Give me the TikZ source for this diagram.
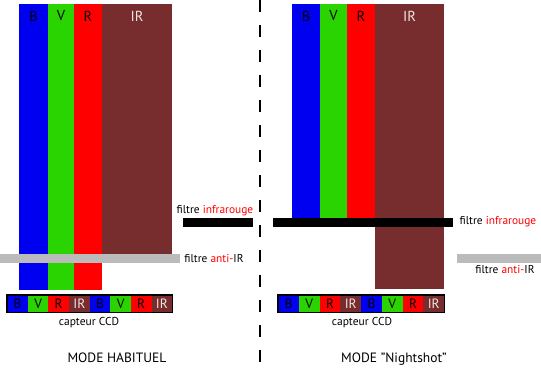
\documentclass[tikz,border=0pt]{standalone}
\usepackage{fontspec}
\setmainfont{PT Sans}
\definecolor{cB}{HTML}{0000F0}
\definecolor{cV}{HTML}{2AD400}
\definecolor{cR}{HTML}{FF0000}
\definecolor{cIR}{HTML}{772D2D}
\definecolor{cGray}{HTML}{BBBBBB}
\definecolor{cIRtxt}{HTML}{F2E4E4}
\begin{document}
\begin{tikzpicture}[x=1pt,y=-1pt,
  barlbl/.style={font=\fontsize{14.5}{16}\selectfont, inner sep=0pt},
  cell/.style={inner sep=0pt, minimum width=20.625pt, minimum height=17pt, anchor=north west, font=\fontsize{13.5}{15}\selectfont},
  lbl/.style={font=\fontsize{11.4}{13}\selectfont, inner sep=0pt},
  title/.style={font=\fontsize{13.5}{16}\selectfont, inner sep=0pt}]
\useasboundingbox (0,0) rectangle (541,371);
% ---------- left panel ----------
\fill[cB] (19,4) rectangle (48,290);
\fill[cV] (48,4) rectangle (74,290);
\fill[cR] (74,4) rectangle (102,290);
\fill[cIR] (102,4) rectangle (172,254);
\node[barlbl] (lB) at (33.5,16) {B};
\node[barlbl] (lV) at (61,16) {V};
\node[barlbl] (lR) at (88,16) {R};
\node[barlbl, text=cIRtxt] (lIR) at (137,16) {IR};
\fill[cGray] (0,254) rectangle (180,263);
\fill[black] (183,218) rectangle (253,227);
\node[lbl] (lfir) at (215,211) {filtre \textcolor{cR}{infrarouge}};
\node[lbl] (lfanti) at (214,259) {filtre \textcolor{cR}{anti-}IR};
\foreach \i/\c/\t/\tc in {0/cB/B/black,1/cV/V/black,2/cR/R/black,3/cIR/IR/cIRtxt,4/cB/B/black,5/cV/V/black,6/cR/R/black,7/cIR/IR/cIRtxt}
  \node[cell, fill=\c, text=\tc] (L\i) at (7+\i*20.625,295) {\t};
\draw[line width=1.2pt] (L0.north west) rectangle (L7.south east);
\node[lbl, font=\fontsize{11.5}{13}\selectfont] (lccd) at (89,323) {capteur CCD};
\node[title] (lmode) at (117,358) {MODE HABITUEL};
% ---------- separator ----------
\coordinate (st) at (260,0);
\coordinate (sb) at (260,371);
\draw[line width=2pt, dash pattern=on 12.5pt off 12.5pt] (st) -- (sb);
% ---------- right panel ----------
\fill[cB] (292,4) rectangle (320,218);
\fill[cV] (320,4) rectangle (347,218);
\fill[cR] (347,4) rectangle (375,218);
\fill[cIR] (375,4) rectangle (444,289);
\node[barlbl] (rB) at (306,16) {B};
\node[barlbl] (rV) at (333.5,16) {V};
\node[barlbl] (rR) at (361,16) {R};
\node[barlbl, text=cIRtxt] (rIR) at (409.5,16) {IR};
\fill[black] (273,218) rectangle (453,227);
\node[lbl] (rfir) at (498,222) {filtre \textcolor{cR}{infrarouge}};
\fill[cGray] (457,254) rectangle (541,263);
\node[lbl] (rfanti) at (505,270) {filtre \textcolor{cR}{anti-}IR};
\foreach \i/\c/\t/\tc in {0/cB/B/black,1/cV/V/black,2/cR/R/black,3/cIR/IR/cIRtxt,4/cB/B/black,5/cV/V/black,6/cR/R/black,7/cIR/IR/cIRtxt}
  \node[cell, fill=\c, text=\tc] (R\i) at (278+\i*20.75,295) {\t};
\draw[line width=1.2pt] (R0.north west) rectangle (R7.south east);
\node[lbl, font=\fontsize{11.5}{13}\selectfont] (rccd) at (362,323) {capteur CCD};
\node[title] (rmode) at (394,359) {MODE "Nightshot"};
\end{tikzpicture}
\end{document}
